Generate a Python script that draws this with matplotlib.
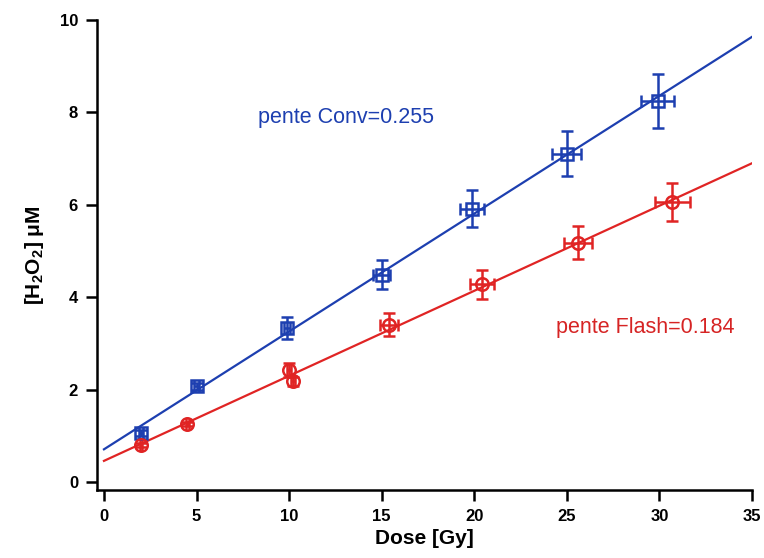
import matplotlib
matplotlib.use("Agg")
import matplotlib.pyplot as plt
import numpy as np

plt.rcParams['mathtext.fontset'] = 'custom'
plt.rcParams['mathtext.rm'] = 'Liberation Sans:bold'
plt.rcParams['mathtext.it'] = 'Liberation Sans:bold'
plt.rcParams['mathtext.bf'] = 'Liberation Sans:bold'

# Conventional irradiation
conv_dose = [2, 5, 9.9, 15, 19.9, 25, 29.9]
conv_h2o2 = [1.06, 2.07, 3.33, 4.49, 5.92, 7.11, 8.25]
conv_dose_err = [0.1, 0.12, 0.15, 0.47, 0.65, 0.78, 0.9]
conv_h2o2_err = [0.06, 0.08, 0.24, 0.31, 0.41, 0.49, 0.58]
conv_slope, conv_intercept = 0.255, 0.71

# Flash irradiation
flash_dose = [2, 4.5, 10.0, 10.2, 15.4, 20.4, 25.6, 30.7]
flash_h2o2 = [0.8, 1.26, 2.42, 2.18, 3.41, 4.28, 5.18, 6.06]
flash_dose_err = [0.08, 0.08, 0.1, 0.1, 0.48, 0.65, 0.78, 0.93]
flash_h2o2_err = [0.05, 0.05, 0.15, 0.1, 0.25, 0.31, 0.36, 0.42]
flash_slope, flash_intercept = 0.184, 0.46

x_ticks = [0, 5, 10, 15, 20, 25, 30, 35]
y_ticks = [0, 2, 4, 6, 8, 10]

blue = '#1d3fb0'
red = '#e02424'

fig = plt.figure(figsize=(7.64, 5.58), dpi=100)
ax = fig.add_axes([0.1276, 0.1219, 0.8567, 0.8423])

fit_x = np.array([0, 35])
ax.plot(fit_x, conv_intercept + conv_slope * fit_x, color=blue, lw=1.6, zorder=2)
ax.plot(fit_x, flash_intercept + flash_slope * fit_x, color=red, lw=1.6, zorder=2)

ax.errorbar(conv_dose, conv_h2o2, xerr=conv_dose_err, yerr=conv_h2o2_err,
            fmt='s', mfc='none', mec=blue, ecolor=blue, ms=9, mew=1.8,
            elinewidth=1.8, capsize=4, capthick=1.8, zorder=3)
ax.errorbar(flash_dose, flash_h2o2, xerr=flash_dose_err, yerr=flash_h2o2_err,
            fmt='o', mfc='none', mec=red, ecolor=red, ms=9, mew=1.8,
            elinewidth=1.8, capsize=4, capthick=1.8, zorder=3)

# slope annotations placed in figure coordinates
ax.text(258 / 764, 1 - 117 / 558, f'pente Conv={conv_slope:.3f}',
        transform=fig.transFigure, color=blue, fontsize=15.5,
        family='Liberation Sans', va='center', ha='left')
ax.text(556 / 764, 1 - 328 / 558, f'pente Flash={flash_slope:.3f}',
        transform=fig.transFigure, color='#d62424', fontsize=15.5,
        family='Liberation Sans', va='center', ha='left')

ax.set_xlim(-0.35, 35)
ax.set_ylim(-0.17, 10)
ax.set_xticks(x_ticks)
ax.set_yticks(y_ticks)
ax.spines['top'].set_visible(False)
ax.spines['right'].set_visible(False)
for s in ('left', 'bottom'):
    ax.spines[s].set_linewidth(1.8)
ax.tick_params(direction='out', length=8, width=1.8, pad=6)
for lbl in ax.get_xticklabels() + ax.get_yticklabels():
    lbl.set_fontfamily('Liberation Sans')
    lbl.set_fontweight('bold')
    lbl.set_fontsize(12)

ax.set_xlabel('Dose [Gy]', family='Liberation Sans', weight='bold',
              fontsize=15, labelpad=3)
ax.set_ylabel(r'$\mathrm{[H_2O_2]}$ μM', family='Liberation Sans',
              weight='bold', fontsize=15, labelpad=10)

fig.savefig('out.png', dpi=100)
